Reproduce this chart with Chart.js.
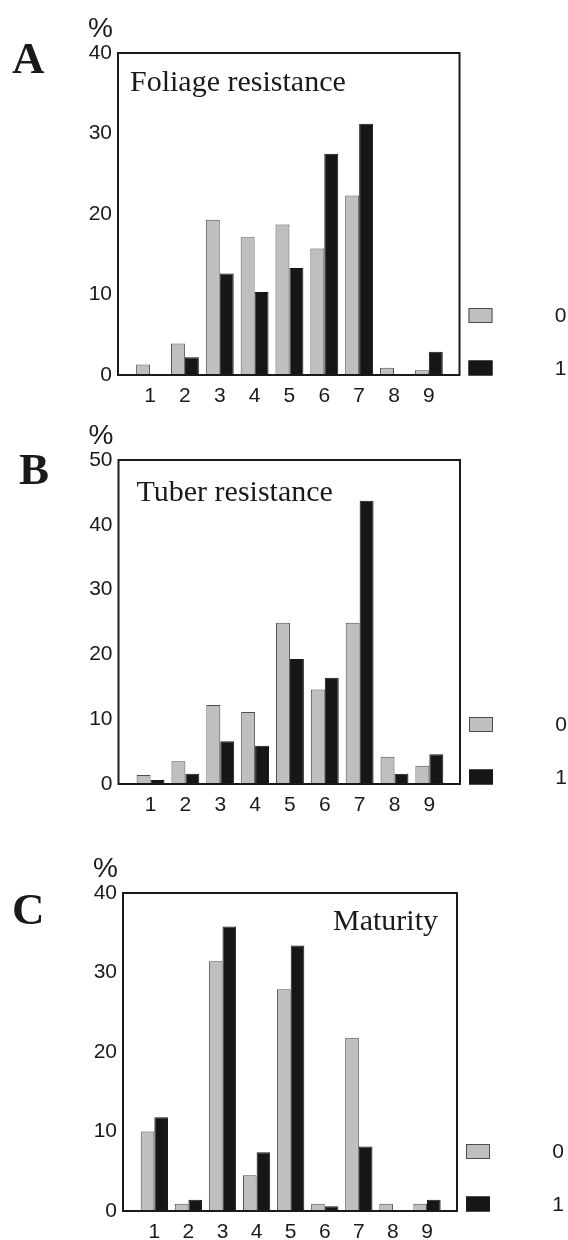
<!DOCTYPE html>
<html>
<head>
<meta charset="utf-8">
<script src="https://cdn.jsdelivr.net/npm/chart.js@4.4.1/dist/chart.umd.min.js"></script>
<style>
  body { margin: 0; background: #fff; }
  canvas { position: absolute; left: 0; }
</style>
</head>
<body>
<canvas id="chartA" width="568" height="420" style="top:0px"></canvas>
<canvas id="chartB" width="568" height="410" style="top:420px"></canvas>
<canvas id="chartC" width="568" height="410" style="top:830px"></canvas>
<script>
// score classes on the x axis
const categories = ['1', '2', '3', '4', '5', '6', '7', '8', '9'];
const seriesNames = ['0', '1'];

// % of genotypes per class
const foliage0 = [1.3, 3.9, 19.3, 17.1, 18.7, 15.7, 22.3, 0.9, 0.6];
const foliage1 = [0, 2.2, 12.6, 10.3, 13.3, 27.5, 31.2, 0, 2.9];
const tuber0 = [1.4, 3.5, 12.2, 11.1, 24.9, 14.6, 24.9, 4.2, 2.8];
const tuber1 = [0.6, 1.6, 6.6, 5.9, 19.3, 16.4, 43.7, 1.6, 4.6];
const maturity0 = [10.0, 0.9, 31.4, 4.5, 27.9, 0.9, 21.8, 0.9, 0.9];
const maturity1 = [11.8, 1.4, 35.8, 7.4, 33.4, 0.6, 8.1, 0, 1.4];

const yTicks40 = [0, 10, 20, 30, 40];
const yTicks50 = [0, 10, 20, 30, 40, 50];

const COLORS = {
    gray: '#bfbfbf',
    grayEdge: '#4d4d4d',
    black: '#161616',
    ink: '#1a1a1a'
};
const SANS = '"Liberation Sans", Arial, sans-serif';
const SERIF = '"Liberation Serif", "Times New Roman", serif';
const TICK_SIZE = 21;

// frame, panel letter, %, inner title and the small legend on the right
const panelDecor = {
    id: 'panelDecor',
    afterDraw(chart, args, opts) {
        const ctx = chart.ctx;
        const a = chart.chartArea;
        ctx.save();
        ctx.strokeStyle = COLORS.ink;
        ctx.lineWidth = 2;
        ctx.strokeRect(a.left, a.top, a.right - a.left, a.bottom - a.top);

        ctx.fillStyle = COLORS.ink;
        ctx.textBaseline = 'alphabetic';
        ctx.font = 'bold 45px ' + SERIF;
        ctx.textAlign = 'left';
        ctx.fillText(opts.letter, opts.letterX, a.top + opts.letterDy);

        ctx.font = '28px ' + SANS;
        ctx.textAlign = 'right';
        ctx.fillText('%', a.left - 5, a.top - 16);

        ctx.font = '30px ' + SERIF;
        if (opts.titleAlign === 'right') {
            ctx.textAlign = 'right';
            ctx.fillText(opts.title, a.right - opts.titleDx, a.top + opts.titleDy);
        } else {
            ctx.textAlign = 'left';
            ctx.fillText(opts.title, a.left + opts.titleDx, a.top + opts.titleDy);
        }

        // legend: gray row above, black row at the baseline
        const rowY = [a.bottom - 59.5, a.bottom - 7];
        chart.data.datasets.forEach((ds, i) => {
            const y = rowY[i];
            ctx.fillStyle = ds.backgroundColor;
            ctx.fillRect(a.right + 9, y - 7.5, 24, 15);
            ctx.strokeStyle = ds.borderColor;
            ctx.lineWidth = 1;
            ctx.strokeRect(a.right + 9.5, y - 7, 23, 14);
            ctx.fillStyle = COLORS.ink;
            ctx.font = TICK_SIZE + 'px ' + SANS;
            ctx.textAlign = 'center';
            ctx.textBaseline = 'middle';
            ctx.fillText(ds.label, a.right + 101, y + 1);
        });
        ctx.restore();
    }
};

function toPoints(values) {
    return values.map((v, i) => ({ x: i + 1, y: v }));
}

function makePanel(id, values0, values1, yTicks, pad, xAxisH, decor) {
    const ctx = document.getElementById(id).getContext('2d');
    return new Chart(ctx, {
        type: 'bar',
        data: {
            datasets: [{
                label: seriesNames[0],
                data: toPoints(values0),
                backgroundColor: COLORS.gray,
                borderColor: COLORS.grayEdge,
                borderWidth: 1
            }, {
                label: seriesNames[1],
                data: toPoints(values1),
                backgroundColor: COLORS.black,
                borderColor: COLORS.black,
                borderWidth: 1
            }]
        },
        options: {
            responsive: false,
            animation: false,
            devicePixelRatio: 1,
            categoryPercentage: 0.8,
            barPercentage: 1.0,
            layout: {
                padding: { left: 0, right: pad.right, top: pad.top, bottom: 0 }
            },
            plugins: {
                legend: { display: false },
                tooltip: { enabled: false },
                panelDecor: decor
            },
            scales: {
                x: {
                    type: 'linear',
                    offset: false,
                    min: 0.08,
                    max: 9.88,
                    grid: { display: false, drawTicks: false },
                    border: { display: false },
                    afterFit: s => { s.height = xAxisH; },
                    ticks: {
                        stepSize: 1,
                        includeBounds: false,
                        padding: 9,
                        color: COLORS.ink,
                        font: { family: SANS, size: TICK_SIZE },
                        callback: v => categories[v - 1]
                    }
                },
                y: {
                    min: 0,
                    max: yTicks[yTicks.length - 1],
                    grid: { display: false, drawTicks: false },
                    border: { display: false },
                    afterFit: s => { s.width = pad.left; },
                    afterBuildTicks: s => { s.ticks = yTicks.map(v => ({ value: v })); },
                    ticks: {
                        padding: 6,
                        color: COLORS.ink,
                        font: { family: SANS, size: TICK_SIZE }
                    }
                }
            }
        },
        plugins: [panelDecor]
    });
}

makePanel('chartA', foliage0, foliage1, yTicks40,
    { left: 118, right: 108.5, top: 53 }, 45,
    { letter: 'A', letterX: 12, letterDy: 20, title: 'Foliage resistance', titleAlign: 'left', titleDx: 12, titleDy: 38 });

makePanel('chartB', tuber0, tuber1, yTicks50,
    { left: 118.5, right: 108, top: 40 }, 46,
    { letter: 'B', letterX: 19, letterDy: 24, title: 'Tuber resistance', titleAlign: 'left', titleDx: 18, titleDy: 41 });

makePanel('chartC', maturity0, maturity1, yTicks40,
    { left: 123, right: 111, top: 63 }, 29,
    { letter: 'C', letterX: 12, letterDy: 31, title: 'Maturity', titleAlign: 'right', titleDx: 19, titleDy: 37 });
</script>
</body>
</html>
